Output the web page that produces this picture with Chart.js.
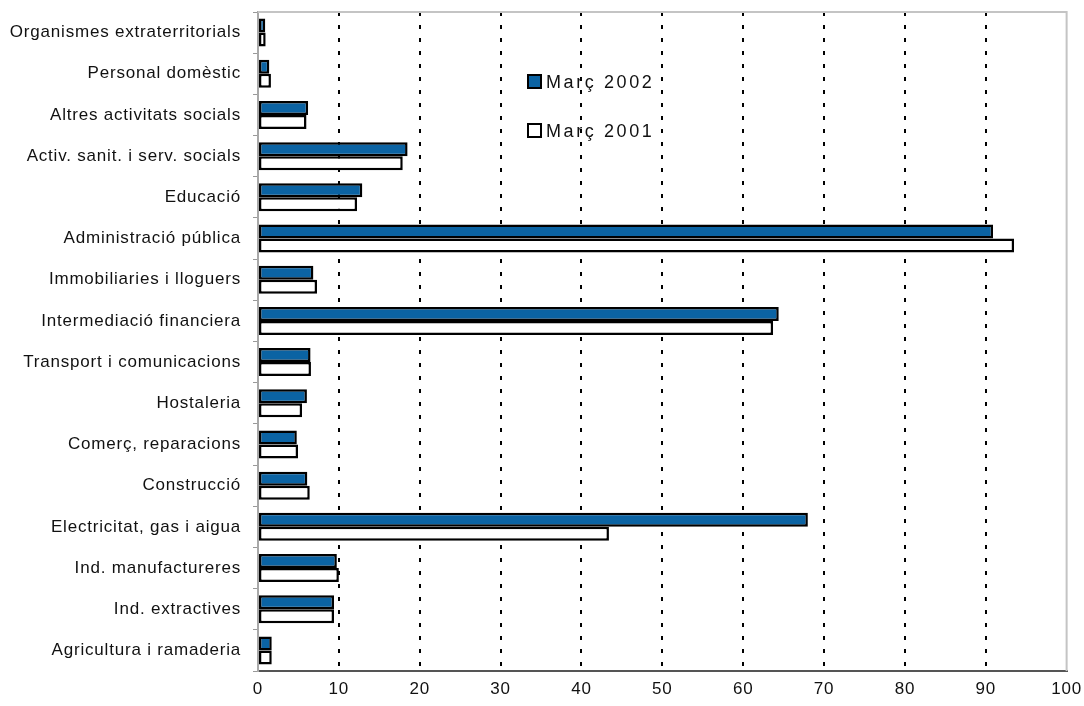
<!DOCTYPE html>
<html>
<head>
<meta charset="utf-8">
<script src="https://cdn.jsdelivr.net/npm/chart.js@4.4.0/dist/chart.umd.min.js"></script>
<style>
  html, body { margin: 0; padding: 0; background: #fff; }
</style>
</head>
<body>
<canvas id="chart" width="1084" height="706"></canvas>
<script>
// Categories, top to bottom
const categories = [
    "Organismes extraterritorials",
    "Personal domèstic",
    "Altres activitats socials",
    "Activ. sanit. i serv. socials",
    "Educació",
    "Administració pública",
    "Immobiliaries i lloguers",
    "Intermediació financiera",
    "Transport i comunicacions",
    "Hostaleria",
    "Comerç, reparacions",
    "Construcció",
    "Electricitat, gas i aigua",
    "Ind. manufactureres",
    "Ind. extractives",
    "Agricultura i ramaderia"
];

const marc2002 = [0.9, 1.4, 6.2, 18.5, 12.9, 90.9, 6.85, 64.4, 6.5, 6.05, 4.8, 6.1, 68.0, 9.75, 9.4, 1.7];
const marc2001 = [0.95, 1.6, 6.0, 17.9, 12.25, 93.5, 7.3, 63.7, 6.55, 5.45, 4.95, 6.4, 43.4, 10.0, 9.4, 1.7];

const xTicks = [0, 10, 20, 30, 40, 50, 60, 70, 80, 90, 100];

// wide lettering like the original; canvas resize resets it, so set it before layout and draw
const spacing = {
    id: "spacing",
    beforeLayout(chart) { chart.ctx.letterSpacing = "0.8px"; },
    beforeDraw(chart) { chart.ctx.letterSpacing = "0.8px"; }
};

// light gray frame on top and right of the plot area
const frame = {
    id: "frame",
    afterDraw(chart) {
        const a = chart.chartArea, c = chart.ctx;
        c.save();
        c.strokeStyle = "#c4c4c4";
        c.lineWidth = 2;
        c.beginPath();
        c.moveTo(a.left, a.top);
        c.lineTo(a.right, a.top);
        c.lineTo(a.right, a.bottom);
        c.stroke();
        c.restore();
    }
};

// legend floating inside the plot, two rows
const floatLegend = {
    id: "floatLegend",
    afterDraw(chart) {
        const c = chart.ctx;
        c.save();
        c.font = "18px 'Liberation Sans'";
        c.letterSpacing = "2.6px";
        c.textBaseline = "alphabetic";
        chart.data.datasets.forEach((ds, i) => {
            const y = 75 + i * 49;
            c.fillStyle = ds.backgroundColor;
            c.fillRect(528, y, 13, 13);
            c.strokeStyle = "#000";
            c.lineWidth = 2;
            c.strokeRect(528, y, 13, 13);
            c.fillStyle = "#111";
            c.fillText(ds.label, 546, y + 13);
        });
        c.restore();
    }
};

const ctx = document.getElementById("chart").getContext("2d");
new Chart(ctx, {
    type: "bar",
    data: {
        labels: categories,
        datasets: [
            {
                label: "Març 2002",
                data: marc2002,
                backgroundColor: "#0b63a3",
                borderColor: "#000",
                borderWidth: 2.5,
                borderSkipped: false,
                barPercentage: 1,
                categoryPercentage: 0.68
            },
            {
                label: "Març 2001",
                data: marc2001,
                backgroundColor: "#fff",
                borderColor: "#000",
                borderWidth: 2.5,
                borderSkipped: false,
                barPercentage: 1,
                categoryPercentage: 0.68
            }
        ]
    },
    options: {
        indexAxis: "y",
        responsive: false,
        animation: false,
        layout: { padding: { top: 12, right: 4, left: 0, bottom: 0 } },
        plugins: {
            legend: { display: false },
            tooltip: { enabled: false }
        },
        scales: {
            x: {
                min: 0,
                max: 100,
                afterBuildTicks: s => { s.ticks = xTicks.map(v => ({ value: v })); },
                afterFit: s => { s.height = 35; },
                border: { display: true, color: "#555", width: 2, dash: [4, 9] },
                grid: {
                    color: c => (c.tick && c.tick.value > 0 && c.tick.value < 100) ? "#000" : "rgba(0,0,0,0)",
                    lineWidth: 2,
                    tickLength: 6,
                    tickColor: "rgba(0,0,0,0)"
                },
                ticks: {
                    color: "#111",
                    font: { family: "Liberation Sans", size: 17 },
                    padding: 2,
                    maxRotation: 0
                }
            },
            y: {
                afterFit: s => { s.width = 258; s.paddingTop = 0; s.paddingBottom = 0; },
                border: { display: true, color: "#a8a8a8", width: 2 },
                grid: {
                    offset: true,
                    drawOnChartArea: false,
                    tickLength: 5,
                    tickColor: "#999",
                    lineWidth: 1
                },
                ticks: {
                    color: "#111",
                    font: { family: "Liberation Sans", size: 17 },
                    padding: 12
                }
            }
        }
    },
    plugins: [spacing, frame, floatLegend]
});
</script>
</body>
</html>
